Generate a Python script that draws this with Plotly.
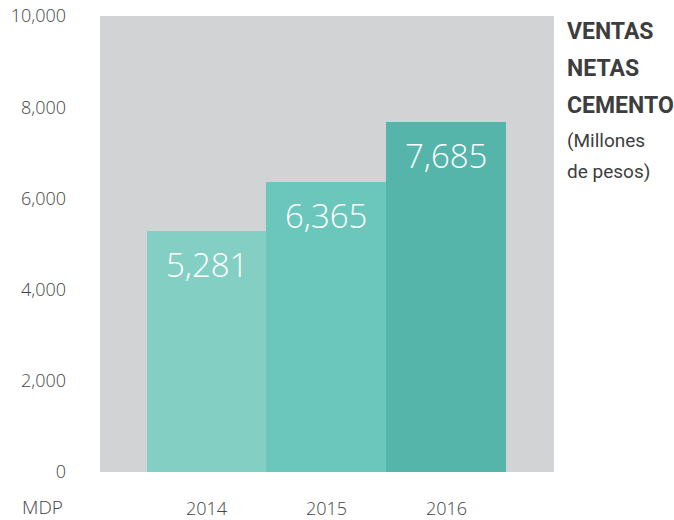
import plotly.graph_objects as go

years = ["2014", "2015", "2016"]
ventas = [5281, 6365, 7685]
labels = ["5,281", "6,365", "7,685"]
colors = ["#84cfc4", "#6bc7bb", "#55b5aa"]
y_ticks = [0, 2000, 4000, 6000, 8000, 10000]
y_tick_text = ["0", "2,000", "4,000", "6,000", "8,000", "10,000"]

W, H = 674, 520
L, R, T, B = 100, 120, 16, 48
pw, ph = W - L - R, H - T - B

def px(x):
    return (x - L) / pw

def py(y):
    return (H - B - y) / ph

COND = "Roboto, sans-serif"
LIGHT = "Open Sans, sans-serif"
TXT = "#444444"

fig = go.Figure()
fig.add_trace(go.Bar(
    x=[0, 1, 2], y=ventas, marker=dict(color=colors, line=dict(width=0)),
    width=1, hoverinfo="skip",
))

for i, (v, t) in enumerate(zip(ventas, labels)):
    fig.add_annotation(x=i, y=v, xref="x", yref="y", text=t, showarrow=False,
                       yanchor="top", yshift=-9,
                       font=dict(family=LIGHT, size=33, color="white", weight=300))

title_lines = [("VENTAS", 31), ("NETAS", 68), ("CEMENTO", 105)]
for txt, yy in title_lines:
    fig.add_annotation(x=px(565), y=py(yy), xref="paper", yref="paper", text=txt,
                       showarrow=False, xanchor="left", yanchor="middle",
                       font=dict(family=COND, size=23, color="#3d3d3d", weight=700))
for txt, yy in [("(Millones", 140), ("de pesos)", 172)]:
    fig.add_annotation(x=px(565), y=py(yy), xref="paper", yref="paper", text=txt,
                       showarrow=False, xanchor="left", yanchor="middle",
                       font=dict(family=COND, size=19, color="#3d3d3d"))

fig.add_annotation(x=px(42), y=py(507), xref="paper", yref="paper", text="MDP",
                   showarrow=False, xanchor="center", yanchor="middle",
                   font=dict(family=LIGHT, size=19, color=TXT, weight=300))

fig.update_layout(
    width=W, height=H, margin=dict(l=L, r=R, t=T, b=B, autoexpand=False),
    paper_bgcolor="white", plot_bgcolor="#d2d3d5",
    bargap=0, showlegend=False,
    font=dict(family=LIGHT, color=TXT),
)
fig.update_xaxes(range=[-0.8875, 2.896], tickvals=[0, 1, 2], ticktext=years,
                 showgrid=False, zeroline=False, showline=False,
                 ticks="", ticklabelstandoff=24,
                 tickfont=dict(family=LIGHT, size=18, color=TXT, weight=300))
fig.update_yaxes(range=[0, 10000], tickvals=y_ticks, ticktext=y_tick_text,
                 showgrid=False, zeroline=False, showline=False,
                 ticks="", ticklabelstandoff=33,
                 tickfont=dict(family=LIGHT, size=18, color=TXT, weight=300))

fig.write_html("out.html", config={"displayModeBar": False},
               post_script="document.body.style.margin='0';document.body.style.overflow='hidden';")
